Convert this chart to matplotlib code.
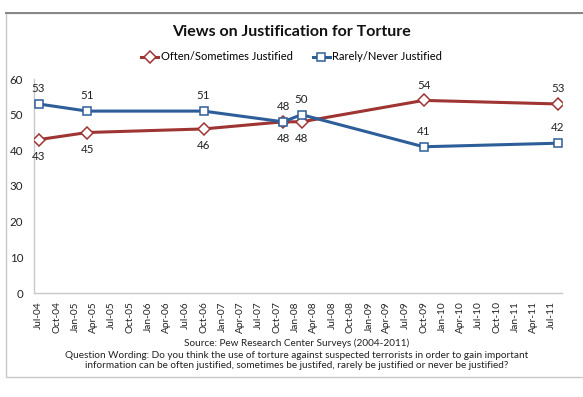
import matplotlib
matplotlib.use("Agg")
import matplotlib.pyplot as plt
from matplotlib.patches import Rectangle
from matplotlib.lines import Line2D
import pandas as pd

plt.rcParams['font.family'] = ['Lato', 'DejaVu Sans']

# survey data (Pew, 2004-2011)
survey_dates = ["2004-07-01", "2005-03-01", "2006-10-01", "2007-11-01",
                "2008-02-01", "2009-10-01", "2011-08-01"]
often_sometimes = [43, 45, 46, 48, 48, 54, 53]
rarely_never = [53, 51, 51, 48, 50, 41, 42]
often_label_pos = ["below", "below", "below", "below", "below", "above", "above"]
rarely_label_pos = ["above", "above", "above", "above", "above", "above", "above"]

red = "#9e3532"
blue = "#2e5e99"

dates = pd.to_datetime(survey_dates)

W, H = 583, 397
fig = plt.figure(figsize=(W / 100, H / 100), dpi=100)

# outer chart frame
fig.add_artist(Rectangle((5.7 / W, 1 - 377 / H), 1.2, (377 - 13.3) / H,
                         transform=fig.transFigure, fill=False,
                         edgecolor="#c8c8c8", lw=1.0))
fig.add_artist(Line2D([5.7 / W, 1], [1 - 13.3 / H] * 2, transform=fig.transFigure,
                      color="#858585", lw=1.4))

ax = fig.add_axes([34.3 / W, 1 - 293 / H, (562 - 34.3) / W, (293 - 79) / H])

ax.plot(dates, often_sometimes, color=red, lw=2.2, marker="D", markersize=5.8,
        markerfacecolor="white", markeredgecolor=red, markeredgewidth=1.1,
        label="Often/Sometimes Justified", zorder=3)
ax.plot(dates, rarely_never, color=blue, lw=2.2, marker="s", markersize=5.8,
        markerfacecolor="white", markeredgecolor=blue, markeredgewidth=1.1,
        label="Rarely/Never Justified", zorder=3)

for d, v, pos in zip(dates, often_sometimes, often_label_pos):
    off = 11 if pos == "above" else -12
    ax.annotate(str(v), (d, v), xytext=(0, off), textcoords="offset points",
                ha="center", va="center", fontsize=8.3, color="#222222")
for d, v, pos in zip(dates, rarely_never, rarely_label_pos):
    off = 11 if pos == "above" else -12
    ax.annotate(str(v), (d, v), xytext=(0, off), textcoords="offset points",
                ha="center", va="center", fontsize=8.3, color="#222222")

ax.set_ylim(0, 60)
ax.set_yticks(range(0, 61, 10))
ax.set_xlim(pd.Timestamp("2004-06-10"), pd.Timestamp("2011-08-21"))
ticks = pd.date_range("2004-07-01", "2011-07-01", freq="3MS")
ax.set_xticks(ticks)
ax.set_xticklabels([t.strftime("%b-%y") for t in ticks], rotation=90, fontsize=7.3)
ax.tick_params(axis="x", length=0, pad=6, colors="#222222")
ax.tick_params(axis="y", length=0, pad=8, labelsize=8.3, colors="#222222")

for s in ["top", "right"]:
    ax.spines[s].set_visible(False)
for s in ["left", "bottom"]:
    ax.spines[s].set_color("#c8c8c8")
    ax.spines[s].set_linewidth(1.0)

fig.text(0.5, 1 - 32 / H, "Views on Justification for Torture", ha="center",
         va="center", fontsize=11.5, fontweight="bold", color="#111111")
fig.legend(loc="center", bbox_to_anchor=(0.5, 1 - 57 / H), ncol=2, frameon=False,
           fontsize=8, handlelength=1.6, handletextpad=0.2, columnspacing=1.8)

fig.text(297 / W, 1 - 343 / H, "Source: Pew Research Center Surveys (2004-2011)",
         ha="center", va="center", fontsize=7.2, color="#222222")
fig.text(297 / W, 1 - 355 / H,
         "Question Wording: Do you think the use of torture against suspected terrorists in order to gain important",
         ha="center", va="center", fontsize=7.2, color="#222222")
fig.text(297 / W, 1 - 366 / H,
         "information can be often justified, sometimes be justifed, rarely be justified or never be justified?",
         ha="center", va="center", fontsize=7.2, color="#222222")

fig.savefig("out.png", dpi=100)
